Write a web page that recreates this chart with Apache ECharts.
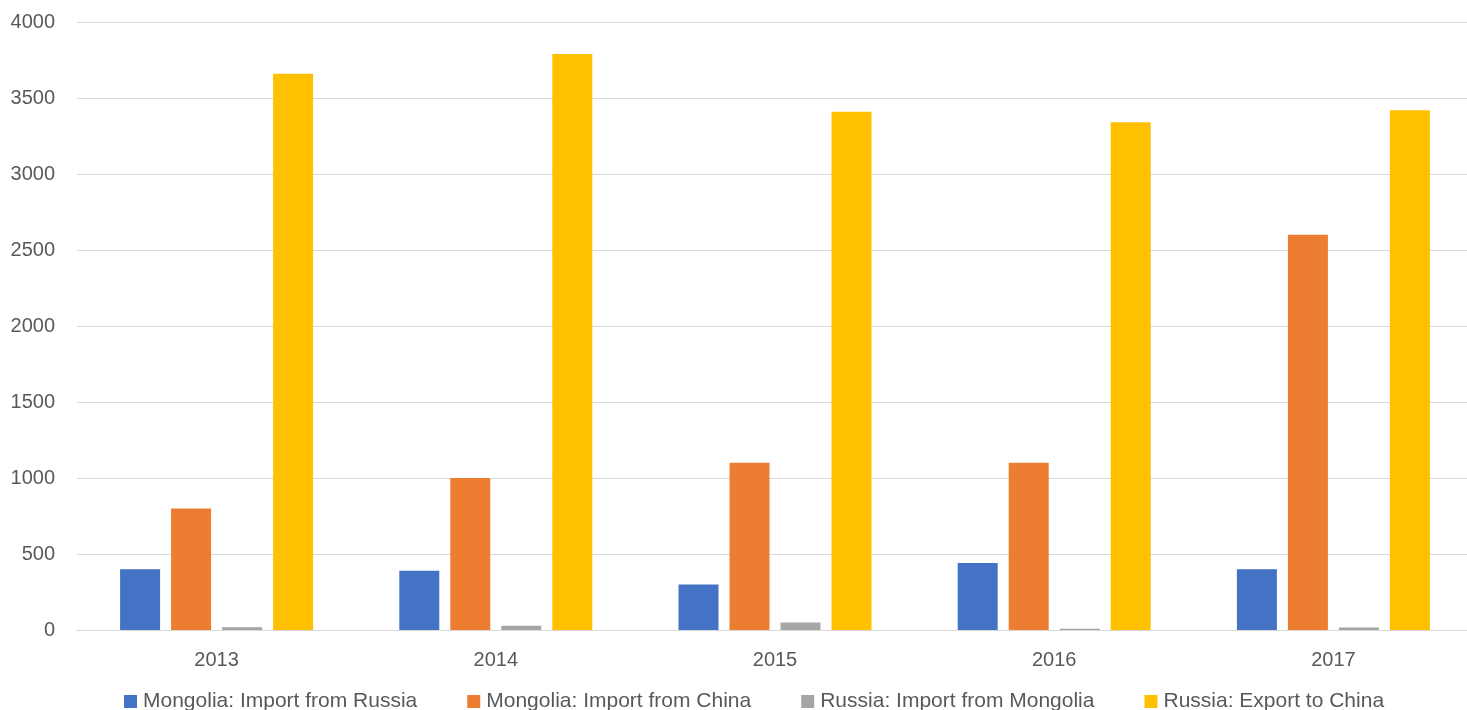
<!DOCTYPE html>
<html><head><meta charset="utf-8">
<script src="https://cdn.jsdelivr.net/npm/echarts@6/dist/echarts.min.js"></script>
<style>html,body{margin:0;padding:0;background:#fff;overflow:hidden}#c{width:1473px;height:710px}</style>
</head><body><div id="c"></div>
<script>
const categories = ['2013','2014','2015','2016','2017'];
const seriesNames = ['Mongolia: Import from Russia','Mongolia: Import from China','Russia: Import from Mongolia','Russia: Export to China'];
const mongoliaImportRussia = [400, 390, 300, 440, 400];
const mongoliaImportChina = [800, 1000, 1100, 1100, 2600];
const russiaImportMongolia = [18, 28, 50, 8, 17];
const russiaExportChina = [3660, 3790, 3410, 3340, 3420];
const colors = ['#4472C4','#ED7D31','#A5A5A5','#FFC000'];
const FONT = 'Liberation Sans';
const chart = echarts.init(document.getElementById('c'));
const data = [mongoliaImportRussia, mongoliaImportChina, russiaImportMongolia, russiaExportChina];
chart.setOption({
  animation:false,
  textStyle:{fontFamily:FONT},
  grid:{left:77, top:22, right:0, height:608, containLabel:false},
  legend:{left:119, top:686, itemWidth:13, itemHeight:13, itemGap:50, icon:'rect',
    textStyle:{color:'#595959', fontSize:21, fontFamily:FONT, padding:[0,0,0,1]},
    data:seriesNames},
  xAxis:{type:'category', data:categories,
    axisLine:{lineStyle:{color:'#D9D9D9', width:1}}, axisTick:{show:false},
    axisLabel:{color:'#595959', fontSize:20, margin:20, fontFamily:FONT}},
  yAxis:{type:'value', min:0, max:4000, interval:500,
    axisLine:{show:false}, axisTick:{show:false},
    splitLine:{lineStyle:{color:'#D9D9D9', width:1}},
    axisLabel:{color:'#595959', fontSize:20, margin:22, fontFamily:FONT, formatter:v=>String(v)}},
  series: seriesNames.map((n,i)=>({name:n, type:'bar', data:data[i], barWidth:40,
    barGap:'27.5%', barCategoryGap:'31%', itemStyle:{color:colors[i]}}))
});
</script></body></html>
